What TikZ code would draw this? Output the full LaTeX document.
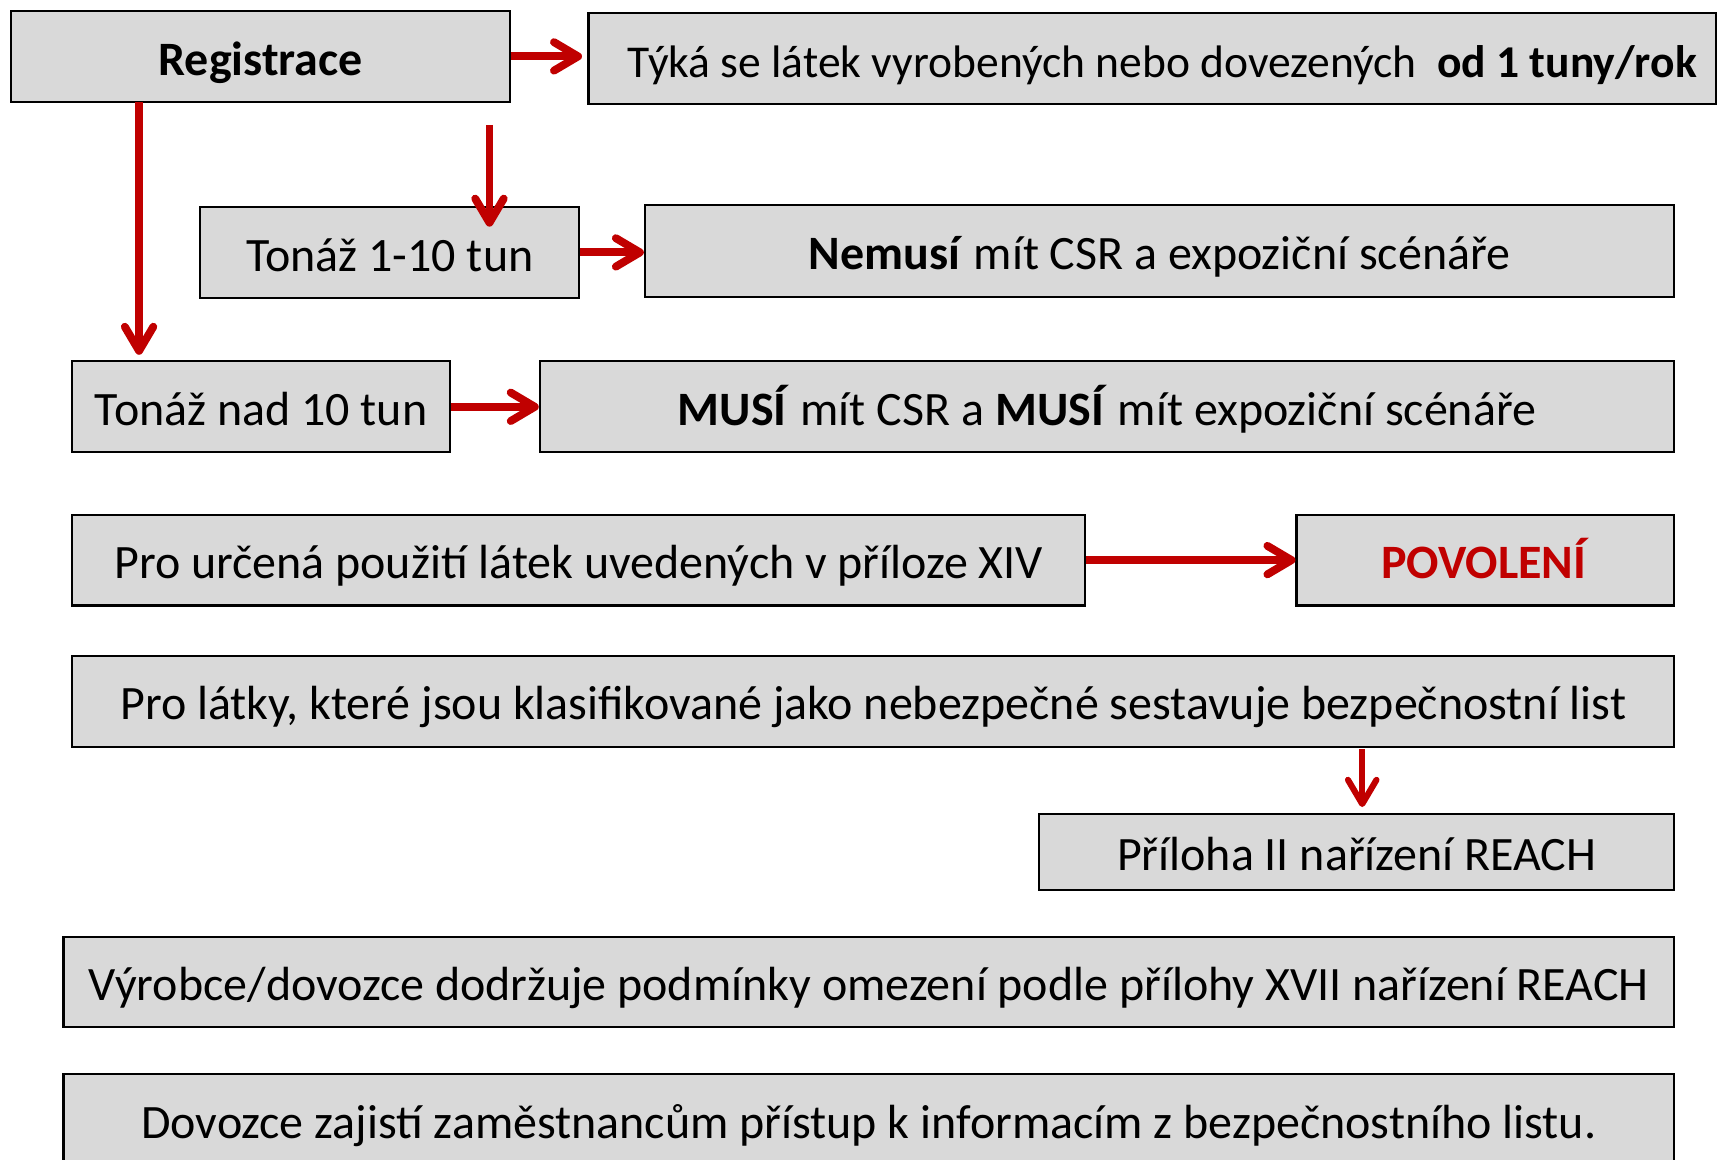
\documentclass[tikz,border=0pt]{standalone}
\usepackage{fontspec}
\setmainfont{Carlito}
\usetikzlibrary{arrows.meta}
\definecolor{boxgray}{HTML}{D9D9D9}
\definecolor{arrred}{HTML}{C00000}
\tikzset{
  box/.style={draw=black, line width=1pt, fill=boxgray, rectangle, inner sep=0pt,
    text height=21pt, text depth=4pt, font=\fontsize{21.9}{26}\selectfont},
  redarrow/.style={draw=arrred, line width=3.6pt,
    -{Straight Barb[length=11pt,width=13pt,line cap=round,line join=round]}},
  thinarrow/.style={redarrow, line width=2.8pt}
}

\begin{document}
\begin{tikzpicture}[x=0.5pt,y=-0.5pt]
            \useasboundingbox (0,0) rectangle (1568,1059);
            % Registration and tonnage bands
            \node[box, minimum width=228pt, minimum height=41.5pt] (reg) at (238,51.5) {\textbf{Registrace}};
            \node[box, minimum width=515pt, minimum height=41.5pt, font=\fontsize{20.8}{25}\selectfont] (tyka) at (1052.5,53.5) {\hspace*{9pt}Týká se látek vyrobených nebo dovezených \ \textbf{od 1 tuny/rok}};
            \node[box, minimum width=173pt, minimum height=41.5pt] (t110) at (356,230.5) {Tonáž 1-10 tun};
            \node[box, minimum width=470pt, minimum height=42pt] (nemusi) at (1059,229) {\textbf{Nemusí} mít CSR a expoziční scénáře};
            \node[box, minimum width=172.5pt, minimum height=41.5pt] (t10) at (238.5,371.5) {Tonáž nad 10 tun};
            \node[box, minimum width=518pt, minimum height=41.5pt] (musi) at (1011,371.5) {\textbf{MUSÍ} mít CSR a \textbf{MUSÍ} mít expoziční scénáře};
            % Authorisation, SDS, restrictions
            \node[box, minimum width=462.5pt, minimum height=41.5pt] (urcena) at (528.5,511.5) {Pro určená použití látek uvedených v příloze XIV};
            \node[box, minimum width=172.5pt, minimum height=41.5pt] (povoleni) at (1356.5,511.5) {\textcolor{arrred}{\textbf{POVOLENÍ}}};
            \node[box, minimum width=731.5pt, minimum height=41.5pt] (latky) at (797.5,640.5) {Pro látky, které jsou klasifikované jako nebezpečné sestavuje bezpečnostní list};
            \node[box, minimum width=290pt, minimum height=35pt] (priloha) at (1239,778) {Příloha II nařízení REACH};
            \node[box, minimum width=735.5pt, minimum height=41pt] (vyrobce) at (793.5,897) {Výrobce/dovozce dodržuje podmínky omezení podle přílohy XVII nařízení REACH};
            \node[box, minimum width=735.5pt, minimum height=41.5pt] (dovozce) at (793.5,1022.5) {Dovozce zajistí zaměstnancům přístup k informacím z bezpečnostního listu.};

            \coordinate (regdown) at (127,93);
            \coordinate (tonstart) at (447,114);
            \coordinate (listdown) at (1244,684);

            \draw[redarrow, shorten >=2.5pt] (reg.east) -- (reg.east -| tyka.west);
            \draw[redarrow, shorten >=2.5pt] (regdown) -- (regdown |- t10.north);
            \draw[redarrow, shorten >=-9.5pt] (tonstart) -- (tonstart |- t110.north);
            \draw[redarrow] (t110.east) -- (t110.east -| nemusi.west);
            \draw[redarrow] (t10.east) -- (musi.west);
            \draw[redarrow] (urcena.east) -- (povoleni.west);
            \draw[thinarrow, shorten >=2.5pt] (listdown) -- (listdown |- priloha.north);
        \end{tikzpicture}
\end{document}
